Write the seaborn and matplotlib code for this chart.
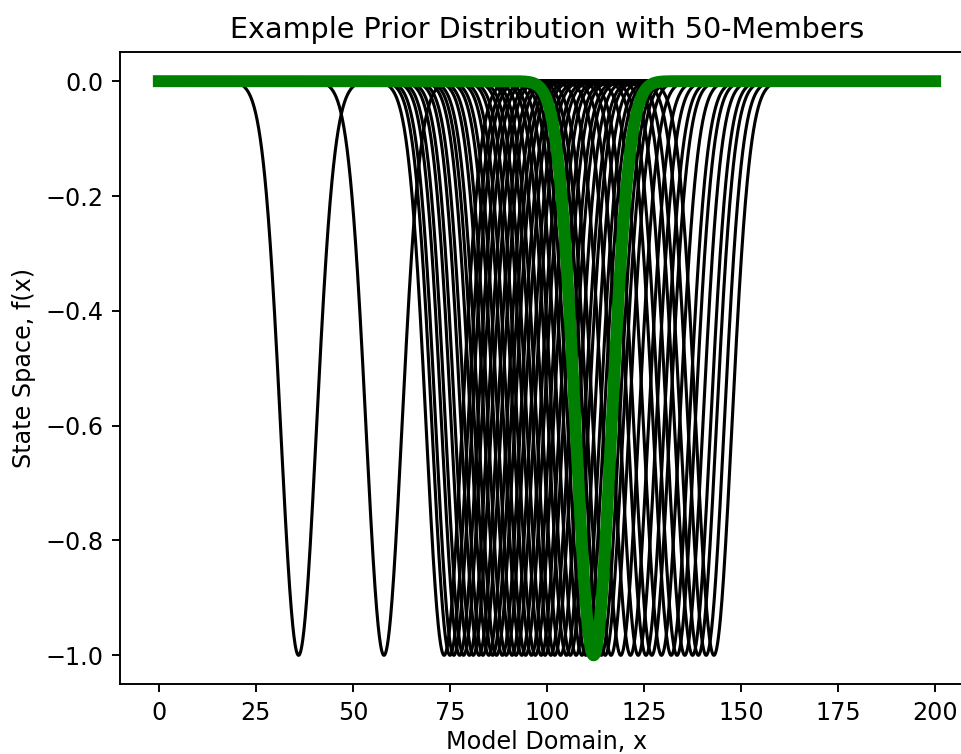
import numpy as np
import pandas as pd
import matplotlib
matplotlib.use("Agg")
import matplotlib.pyplot as plt
import seaborn as sns

# Centres (location of the minimum) of the 50 prior ensemble members
member_centers = [36, 58,
                  73.5, 75, 76, 77.5, 78.5, 80, 81, 82.5, 83.5, 85,
                  86, 87, 88.5, 89.5, 91, 92, 93.5, 94.5, 96, 97,
                  98.5, 99.5, 101, 102, 103.5, 105, 106, 107.5, 109, 110,
                  111.5, 112.5, 114, 115,
                  116.5, 119, 121.5, 123.5, 125.5, 127, 129.5, 132, 133.5,
                  135.5, 137.5, 139, 141, 143]
truth_center = 112
bump_width = 4.6
domain = np.linspace(0, 200, 2001)

title = "Example Prior Distribution with 50-Members"
xlabel = "Model Domain, x"
ylabel = "State Space, f(x)"


def bump(c):
    return -np.exp(-((domain - c) ** 2) / (2 * bump_width ** 2))


rows = []
for i, c in enumerate(member_centers):
    rows.append(pd.DataFrame({"x": domain, "f": bump(c), "member": i}))
members = pd.concat(rows, ignore_index=True)
truth = pd.DataFrame({"x": domain, "f": bump(truth_center)})

DPI = 172
fig = plt.figure(figsize=(961 / DPI, 754 / DPI), dpi=DPI)
ax = fig.add_axes([0.1249, 0.0928, 0.8886, 0.8376])

sns.lineplot(data=members, x="x", y="f", units="member", estimator=None,
             color="black", linewidth=1.3, ax=ax, legend=False)
sns.lineplot(data=truth, x="x", y="f", color="green", linewidth=5, ax=ax,
             legend=False)

ax.set_title(title)
ax.set_xlabel(xlabel, labelpad=2)
ax.set_ylabel(ylabel)
ax.set_xticks([0, 25, 50, 75, 100, 125, 150, 175, 200])
ax.set_yticks([0.0, -0.2, -0.4, -0.6, -0.8, -1.0])

fig.savefig("out.png", dpi=DPI)
